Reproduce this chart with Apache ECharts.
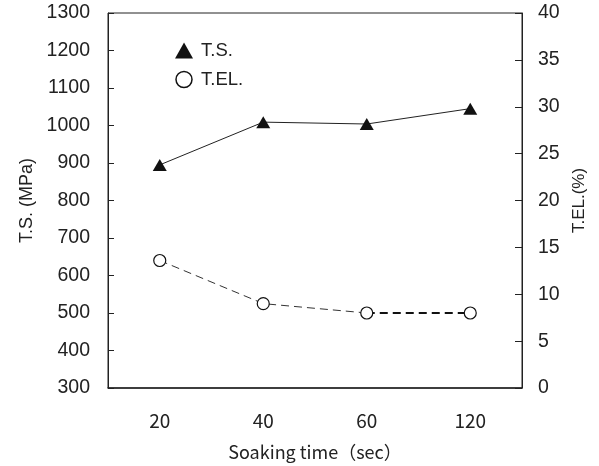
<!DOCTYPE html>
<html>
<head>
<meta charset="utf-8">
<script src="https://cdn.jsdelivr.net/npm/echarts@6/dist/echarts.min.js"></script>
<style>
  html, body { margin: 0; padding: 0; background: #fff; }
  #chart { width: 599px; height: 466px; }
</style>
</head>
<body>
<div id="chart"></div>
<script>
// Soaking time categories (sec)
const soakingTimes = ['20', '40', '60', '120'];
// Tensile strength, MPa (left axis)
const tensileStrength = [895, 1009, 1004, 1045];
// Total elongation, % (right axis)
const totalElongation = [13.6, 9.0, 8.0, 8.0];
// Thin dashed part of the elongation curve (20 -> 60 sec)
const elongationHead = [13.6, 9.0, 8.0, null];
// Bold dashed part of the elongation curve (60 -> 120 sec)
const elongationTail = [null, null, 8.0, 8.0];

const ink = '#222';
const numFont = '"Liberation Sans", Arial, sans-serif';
const jpFont = '"Noto Sans CJK JP", sans-serif';
const plain = v => String(v);

const chart = echarts.init(document.getElementById('chart'), null, { renderer: 'canvas' });
chart.setOption({
  animation: false,
  backgroundColor: '#fff',
  grid: {
    left: 108, right: 77, top: 13, bottom: 77,
    show: true, borderColor: ink, borderWidth: 1, backgroundColor: 'transparent'
  },
  legend: {
    orient: 'vertical',
    left: 170, top: 36,
    itemWidth: 18, itemHeight: 16, itemGap: 10,
    data: [
      { name: 'T.S.', icon: 'triangle', itemStyle: { color: '#111' } },
      { name: 'T.EL.', icon: 'circle', itemStyle: { color: '#fff', borderColor: '#111', borderWidth: 1.5 } }
    ],
    textStyle: { fontFamily: numFont, fontSize: 18.5, color: ink, padding: [0, 0, 0, 3] }
  },
  xAxis: {
    type: 'category',
    data: soakingTimes,
    boundaryGap: true,
    name: 'Soaking time（sec）',
    nameLocation: 'middle',
    nameGap: 55,
    nameTextStyle: { fontFamily: jpFont, fontSize: 18, color: ink },
    axisLine: { lineStyle: { color: ink, width: 1.5 } },
    axisTick: { inside: true, length: 6, lineStyle: { color: ink } },
    axisLabel: { margin: 23, fontFamily: jpFont, fontSize: 19, color: ink },
    splitLine: { show: false }
  },
  yAxis: [
    {
      type: 'value',
      min: 300, max: 1300, interval: 100,
      name: 'T.S. (MPa)',
      nameLocation: 'middle',
      nameRotate: 90,
      nameGap: 72,
      nameTextStyle: { fontFamily: numFont, fontSize: 18, color: ink },
      axisLine: { show: true, lineStyle: { color: ink, width: 1 } },
      axisTick: { show: true, inside: true, length: 6, lineStyle: { color: ink } },
      axisLabel: { margin: 18, fontFamily: numFont, fontSize: 19.5, color: ink, formatter: plain },
      splitLine: { show: false }
    },
    {
      type: 'value',
      min: 0, max: 40, interval: 5,
      position: 'right',
      name: 'T.EL.(%)',
      nameLocation: 'middle',
      nameRotate: 90,
      nameGap: 48,
      nameTextStyle: { fontFamily: numFont, fontSize: 17, color: ink },
      axisLine: { show: true, lineStyle: { color: ink, width: 1 } },
      axisTick: { show: true, inside: true, length: 7, lineStyle: { color: ink } },
      axisLabel: { margin: 16, fontFamily: numFont, fontSize: 19.5, color: ink, formatter: plain },
      splitLine: { show: false }
    }
  ],
  series: [
    {
      name: 'T.S.',
      type: 'line',
      yAxisIndex: 0,
      data: tensileStrength,
      symbol: 'triangle',
      symbolSize: [14, 12],
      itemStyle: { color: '#111' },
      lineStyle: { color: ink, width: 1 },
      z: 3
    },
    {
      name: 'elongation-head',
      type: 'line',
      yAxisIndex: 1,
      data: elongationHead,
      symbol: 'none',
      lineStyle: { color: '#333', width: 1, type: [8, 5] },
      z: 2
    },
    {
      name: 'elongation-tail',
      type: 'line',
      yAxisIndex: 1,
      data: elongationTail,
      symbol: 'none',
      lineStyle: { color: '#111', width: 2, type: [8, 5] },
      z: 2
    },
    {
      name: 'T.EL.',
      type: 'line',
      yAxisIndex: 1,
      data: totalElongation,
      symbol: 'circle',
      symbolSize: 12,
      itemStyle: { color: '#fff', borderColor: '#111', borderWidth: 1.2 },
      lineStyle: { opacity: 0 },
      z: 4
    }
  ]
});
</script>
</body>
</html>
